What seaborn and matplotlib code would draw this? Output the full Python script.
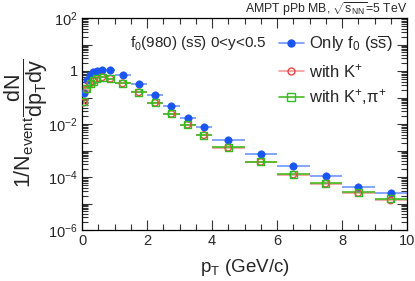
import numpy as np
import matplotlib
matplotlib.use("Agg")
import matplotlib.pyplot as plt
from matplotlib.lines import Line2D
from matplotlib.ticker import FixedLocator, FuncFormatter, MultipleLocator
import seaborn as sns

# --- data ---
pt = [0.05, 0.15, 0.25, 0.35, 0.45, 0.625, 0.875, 1.25, 1.75, 2.25, 2.75,
      3.25, 3.75, 4.5, 5.5, 6.5, 7.5, 8.5, 9.5]
pt_err = [0.05, 0.05, 0.05, 0.05, 0.05, 0.125, 0.125, 0.25, 0.25, 0.25, 0.25,
          0.25, 0.25, 0.5, 0.5, 0.5, 0.5, 0.5, 0.5]
only_f0 = [0.148, 0.45, 0.71, 0.89, 1.0, 1.12, 1.06, 0.71, 0.32, 0.124, 0.046,
           0.017, 0.0076, 0.0025, 7.2e-4, 2.5e-4, 1.07e-4, 4.3e-5, 2.5e-5]
with_k = [0.064, 0.20, 0.33, 0.41, 0.50, 0.58, 0.51, 0.34, 0.157, 0.063, 0.024,
          0.0094, 0.0038, 1.27e-3, 3.7e-4, 1.23e-4, 5.6e-5, 2.5e-5, 1.3e-5]
with_k_pi = [0.072, 0.22, 0.34, 0.42, 0.51, 0.59, 0.52, 0.34, 0.158, 0.063, 0.024,
             0.0094, 0.0038, 1.3e-3, 3.7e-4, 1.25e-4, 5.7e-5, 2.7e-5, 1.5e-5]

series = [
    ("Only f$_0$ (s$\\overline{\\rm s}$)", only_f0, "#1a55f0", "#6f95ff", "o", True, 28),
    ("with K$^{+}$", with_k, "#ee4444", "#f59a9a", "o", False, 22),
    ("with K$^{+}$,$\\pi^{+}$", with_k_pi, "#33bb22", "#44bb22", "s", False, 26),
]

sns.set_theme(style="ticks")
plt.rcParams['font.family'] = ['Liberation Sans', 'DejaVu Sans']
plt.rcParams['mathtext.fontset'] = 'custom'
plt.rcParams['mathtext.rm'] = 'Liberation Sans'
plt.rcParams['mathtext.it'] = 'Liberation Sans'
plt.rcParams['mathtext.bf'] = 'Liberation Sans:bold'

fig = plt.figure(figsize=(4.15, 2.81), dpi=100)
ax = fig.add_axes([82 / 415, 1 - 230 / 281, 325 / 415, 212 / 281])

for label, vals, col, ecol, mk, filled, size in series:
    ax.errorbar(pt, vals, xerr=pt_err, fmt='none', ecolor=ecol, elinewidth=1.2,
                capsize=0, zorder=2)
for label, vals, col, ecol, mk, filled, size in series:
    if filled:
        sns.scatterplot(x=pt, y=vals, marker=mk, s=size, color=col,
                        edgecolor=col, linewidth=0.5, ax=ax, zorder=3)
    else:
        sns.scatterplot(x=pt, y=vals, marker=mk, s=size, facecolor='none',
                        edgecolor=col, linewidth=1.0, ax=ax, zorder=3)

ax.set_yscale('log')
ax.set_xlim(0, 10)
ax.set_ylim(1e-6, 1e2)

# ticks, ROOT style
ax.xaxis.set_major_locator(MultipleLocator(2))
ax.xaxis.set_minor_locator(MultipleLocator(0.5))
ax.yaxis.set_major_locator(FixedLocator([10.0 ** e for e in range(-6, 3)]))
minors = [m * 10.0 ** e for e in range(-6, 2) for m in range(2, 10)]
ax.yaxis.set_minor_locator(FixedLocator(minors))


def ylab(v, pos):
    e = int(round(np.log10(v)))
    if e % 2:
        return ""
    if e == 0:
        return "1"
    return "$10^{%d}$" % e


ax.yaxis.set_major_formatter(FuncFormatter(ylab))
ax.tick_params(which='both', direction='in', top=True, right=True,
               labelsize=10.5, color='#333333', width=0.8, pad=3)
ax.tick_params(which='major', length=7)
ax.tick_params(which='minor', length=4)
for sp in ax.spines.values():
    sp.set_linewidth(0.9)
    sp.set_color('black')

ax.set_xlabel("p$_{\\rm T}$ (GeV/c)", fontsize=13.5, labelpad=6)
fig.text(0.063, 0.56, "1/N$_{\\rm event}$$\\dfrac{\\rm dN}{\\rm dp_{T}dy}$",
         rotation=90, ha='center', va='center', fontsize=15.5)

fig.text(407 / 415, 1 - 13 / 281, "AMPT pPb MB, $\\sqrt{\\rm s_{NN}}$=5 TeV",
         ha='right', va='baseline', fontsize=8.8)
fig.text(130 / 415, 1 - 44 / 281,
         "f$_0$(980) (s$\\overline{\\rm s}$) 0<y<0.5",
         ha='left', va='center', fontsize=11)

handles = []
for label, vals, col, ecol, mk, filled, size in series:
    handles.append(Line2D([0], [0], color=ecol, lw=1.2, marker=mk,
                          markersize=5 if mk == 'o' else 5.5,
                          markerfacecolor=col if filled else 'none',
                          markeredgecolor=col, label=label))
ax.legend(handles=handles, loc='upper left', bbox_to_anchor=(0.585, 0.955),
          frameon=False, fontsize=12, handlelength=1.5, handletextpad=0.3,
          labelspacing=0.45, borderaxespad=0)

fig.savefig("out.png", dpi=100)
